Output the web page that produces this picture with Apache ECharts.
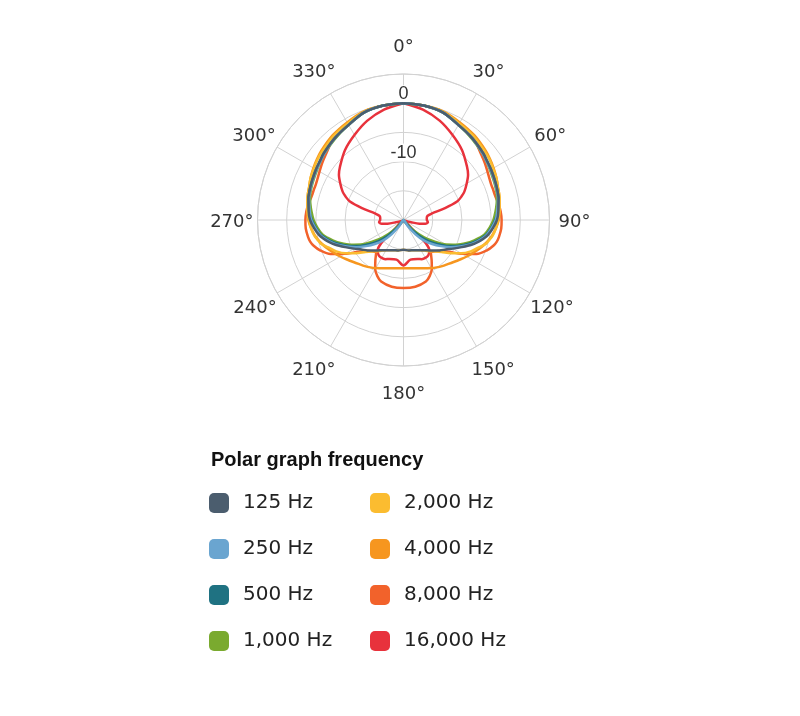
<!DOCTYPE html>
<html lang="en">
<head>
    <meta charset="UTF-8">
    <title>Polar graph frequency</title>
    <script src="https://cdn.jsdelivr.net/npm/echarts/dist/echarts.min.js"></script>
    <style>
        html, body { margin: 0; padding: 0; background: #fff; }
        #main { width: 800px; height: 716px; }
    </style>
</head>
<body>
    <div id="main"></div>
    <script>
        // angle of each reading (degrees, 0 = front, clockwise)
        const angles = [0,10,20,30,40,50,55,60,65,68,71,74,77,80,85,90,95,100,103,106,110,115,120,125,130,135,140,145,150,155,160,170,180,
            190,200,205,210,215,220,225,230,235,240,245,250,254,257,260,265,270,275,280,283,286,289,292,295,300,305,310,320,330,340,350,360];

        // level in dB at each angle above
        const hz125 = [0,-0.1,-0.4,-1.2,-1.7,-2.2,-2.5,-2.7,-2.9,-3.0,-3.1,-3.2,-3.3,-3.5,-3.7,-4.0,-4.6,-5.3,-5.9,-6.6,-7.6,-9.0,-10.2,-11.2,-11.9,-12.6,-13.2,-13.7,-14.0,-14.3,-14.5,-14.7,-14.9,
            -14.7,-14.5,-14.3,-14.0,-13.7,-13.2,-12.6,-11.9,-11.2,-10.2,-9.0,-7.6,-6.6,-5.9,-5.3,-4.6,-4.0,-3.7,-3.5,-3.3,-3.2,-3.1,-3.0,-2.9,-2.7,-2.5,-2.2,-1.7,-1.2,-0.4,-0.1,0];
        const hz250 = [0,-0.1,-0.4,-1.2,-1.7,-2.3,-2.6,-2.8,-3.0,-3.1,-3.2,-3.3,-3.4,-3.6,-3.9,-4.2,-4.8,-5.5,-6.1,-6.8,-7.8,-9.3,-10.7,-12.2,-13.6,-15.0,-16.8,-18.8,-20,-20,-20,-20,-20,
            -20,-20,-20,-20,-18.8,-16.8,-15.0,-13.6,-12.2,-10.7,-9.3,-7.8,-6.8,-6.1,-5.5,-4.8,-4.2,-3.9,-3.6,-3.4,-3.3,-3.2,-3.1,-3.0,-2.8,-2.6,-2.3,-1.7,-1.2,-0.4,-0.1,0];
        const hz500 = [0,-0.1,-0.4,-1.2,-1.7,-2.2,-2.5,-2.7,-2.9,-3.0,-3.1,-3.2,-3.3,-3.5,-3.8,-4.3,-4.9,-5.6,-6.3,-7.0,-8.1,-9.6,-11.1,-12.8,-14.4,-16.2,-18.2,-19.8,-20,-20,-20,-20,-20,
            -20,-20,-20,-20,-19.8,-18.2,-16.2,-14.4,-12.8,-11.1,-9.6,-8.1,-7.0,-6.3,-5.6,-4.9,-4.3,-3.8,-3.5,-3.3,-3.2,-3.1,-3.0,-2.9,-2.7,-2.5,-2.2,-1.7,-1.2,-0.4,-0.1,0];
        const hz1000 = [0,-0.1,-0.4,-1.2,-1.8,-2.3,-2.6,-2.9,-3.1,-3.2,-3.3,-3.4,-3.6,-3.8,-4.2,-4.6,-5.2,-5.9,-6.6,-7.4,-8.5,-10.0,-11.6,-13.6,-15.4,-17.3,-19.3,-20,-20,-20,-20,-20,-20,
            -20,-20,-20,-20,-20,-19.3,-17.3,-15.4,-13.6,-11.6,-10.0,-8.5,-7.4,-6.6,-5.9,-5.2,-4.6,-4.2,-3.8,-3.6,-3.4,-3.3,-3.2,-3.1,-2.9,-2.6,-2.3,-1.8,-1.2,-0.4,-0.1,0];
        const hz2000 = [0,-0.1,-0.3,-0.9,-1.3,-1.8,-2.0,-2.3,-2.5,-2.7,-2.9,-3.0,-3.1,-3.3,-3.5,-3.8,-4.1,-4.5,-4.9,-5.3,-6.3,-7.3,-8.6,-10.1,-11.5,-12.4,-13.0,-13.6,-14.0,-14.3,-14.5,-14.7,-14.9,
            -14.7,-14.5,-14.3,-14.0,-13.6,-13.0,-12.4,-11.5,-10.1,-8.6,-7.3,-6.3,-5.3,-4.9,-4.5,-4.1,-3.8,-3.5,-3.3,-3.1,-3.0,-2.9,-2.7,-2.5,-2.3,-2.0,-1.8,-1.3,-0.9,-0.3,-0.1,0];
        const hz4000 = [0,-0.1,-0.2,-0.7,-1.1,-1.6,-1.9,-2.2,-2.5,-2.7,-2.9,-3.0,-3.2,-3.3,-3.5,-3.7,-4.1,-4.6,-5.0,-5.4,-6.0,-6.8,-7.5,-8.2,-8.8,-9.3,-9.7,-10.1,-10.5,-10.9,-11.2,-11.6,-11.75,
            -11.6,-11.2,-10.9,-10.5,-10.1,-9.7,-9.3,-8.8,-8.2,-7.5,-6.8,-6.0,-5.4,-5.0,-4.6,-4.1,-3.7,-3.5,-3.3,-3.2,-3.0,-2.9,-2.7,-2.5,-2.2,-1.9,-1.6,-1.1,-0.7,-0.2,-0.1,0];
        const hz8000 = [0,-0.1,-0.3,-0.9,-1.5,-2.6,-3.0,-3.4,-3.7,-3.8,-3.8,-3.8,-3.7,-3.5,-3.3,-3.2,-3.2,-3.4,-3.6,-4.0,-4.8,-6.2,-8.4,-10.5,-11.8,-12.4,-12.7,-11.6,-10.3,-9.4,-8.8,-8.4,-8.35,
            -8.4,-8.8,-9.4,-10.3,-11.6,-12.7,-12.4,-11.8,-10.5,-8.4,-6.2,-4.8,-4.0,-3.6,-3.4,-3.2,-3.2,-3.3,-3.5,-3.7,-3.8,-3.8,-3.8,-3.7,-3.4,-3.0,-2.6,-1.5,-0.9,-0.3,-0.1,0];
        const hz16000 = [0,-0.8,-1.9,-3.2,-4.4,-5.8,-6.5,-7.5,-8.5,-9.3,-10.3,-12.6,-15.0,-15.8,-16.0,-16.0,-15.8,-16.2,-17.2,-18.5,-19.3,-19.7,-19.8,-19.7,-19.5,-18.5,-13.1,-12.6,-12.5,-12.6,-12.9,-13.1,-12.2,
            -13.1,-12.9,-12.6,-12.5,-12.6,-13.1,-18.5,-19.5,-19.7,-19.8,-19.7,-19.3,-18.5,-17.2,-16.2,-15.8,-16.0,-16.0,-15.8,-15.0,-12.6,-10.3,-9.3,-8.5,-7.5,-6.5,-5.8,-4.4,-3.2,-1.9,-0.8,0];

        const names = ['125 Hz', '250 Hz', '500 Hz', '1,000 Hz', '2,000 Hz', '4,000 Hz', '8,000 Hz', '16,000 Hz'];
        const levels = [hz125, hz250, hz500, hz1000, hz2000, hz4000, hz8000, hz16000];
        const colors = ['#4b5d6e', '#6aa5d0', '#1f7282', '#7aaa2f', '#fbbc30', '#f6961f', '#f2622b', '#e8323c'];

        const gridColor = '#d2d2d2';
        const font = 'DejaVu Sans';

        // highest frequency first so the low ones sit on top
        const seriesList = [];
        for (let i = names.length - 1; i >= 0; i--) {
            seriesList.push({
                name: names[i],
                type: 'line',
                coordinateSystem: 'polar',
                showSymbol: false,
                smooth: 0.3,
                itemStyle: { color: colors[i] },
                lineStyle: { color: colors[i], width: 2.5 },
                data: angles.map((a, k) => [levels[i][k], a])
            });
        }

        // push each degree label out so they sit on one ring around the plot
        const degBase = { fontFamily: font, fontSize: 18, color: '#333' };
        const degPad = {
            0: [0, 0, 28, 0], 30: [0, 0, 21, 1], 60: [0, 0, 7, 13], 90: [4, 0, 0, 19],
            120: [11, 0, 0, 9], 150: [24, 0, 0, 0], 180: [29, 0, 0, 0], 210: [24, 0, 0, 0],
            240: [11, 9, 0, 0], 270: [4, 14, 0, 0], 300: [0, 10, 7, 0], 330: [0, 0, 21, 0]
        };
        const degRich = {};
        Object.keys(degPad).forEach(k => {
            degRich['a' + k] = Object.assign({}, degBase, { padding: degPad[k] });
        });

        const legendBase = {
            orient: 'vertical',
            top: 493,
            padding: 0,
            itemWidth: 20,
            itemHeight: 20,
            itemGap: 26,
            icon: 'roundRect',
            selectedMode: false,
            itemStyle: { borderWidth: 0 },
            textStyle: { fontFamily: font, fontSize: 20, color: '#222', padding: [3, 0, 0, 9] }
        };

        const option = {
            animation: false,
            textStyle: { fontFamily: font },
            title: {
                text: 'Polar graph frequency',
                left: 211,
                top: 450,
                padding: 0,
                textStyle: { fontFamily: 'Liberation Sans', fontSize: 20, fontWeight: 'bold', color: '#111' }
            },
            legend: [
                Object.assign({}, legendBase, { left: 209, data: names.slice(0, 4) }),
                Object.assign({}, legendBase, { left: 370, data: names.slice(4) })
            ],
            polar: { center: [403.5, 220], radius: 146 },
            angleAxis: {
                type: 'value',
                min: 0,
                max: 360,
                interval: 30,
                startAngle: 90,
                clockwise: true,
                axisLine: { lineStyle: { color: gridColor, width: 1 } },
                axisTick: { show: false },
                axisLabel: {
                    margin: -10,
                    fontFamily: font,
                    fontSize: 18,
                    color: '#333',
                    rich: degRich,
                    formatter: v => (v === 360 ? '' : '{a' + v + '|' + v + '°}')
                },
                splitLine: { lineStyle: { color: gridColor, width: 1 } }
            },
            radiusAxis: {
                type: 'value',
                min: -20,
                max: 5,
                interval: 5,
                axisLine: { show: false },
                axisTick: { show: false },
                axisLabel: {
                    margin: 0,
                    align: 'center',
                    verticalAlign: 'bottom',
                    fontFamily: 'Liberation Sans',
                    fontSize: 18,
                    color: '#333',
                    backgroundColor: '#fff',
                    padding: [0, 2, 0, 2],
                    formatter: v => (v === 0 ? '0' : v === -10 ? '-10' : '')
                },
                splitLine: { lineStyle: { color: gridColor, width: 1 } }
            },
            series: seriesList
        };

        const myChart = echarts.init(document.getElementById('main'));
        myChart.setOption(option);
    </script>
</body>
</html>
